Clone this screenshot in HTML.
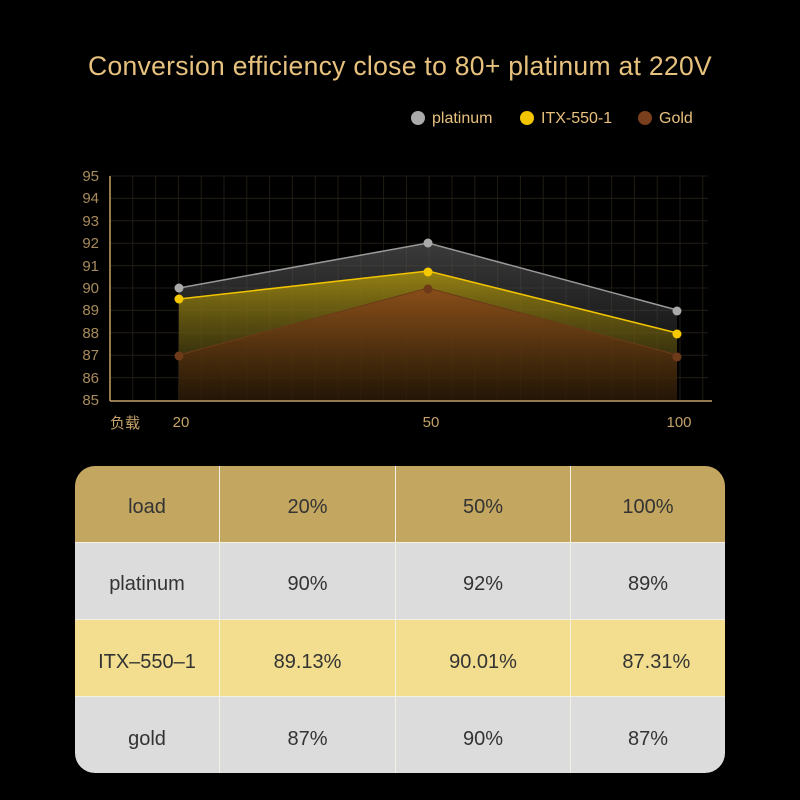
<!DOCTYPE html>
<html><head><meta charset="utf-8"><style>
body{margin:0;background:#000;width:800px;height:800px;overflow:hidden;font-family:"Liberation Sans","Noto Sans CJK SC",sans-serif;}
.t{position:absolute;left:0;width:800px;top:51px;text-align:center;color:#e7c17e;font-size:26.5px;letter-spacing:0.3px}
table{position:absolute;left:75px;top:466px;width:650px;height:307px;border-collapse:collapse;border-radius:20px;overflow:hidden;font-size:20px;color:#333;}
td{text-align:center;border-right:1px solid #f4f0e4;border-bottom:1px solid #f4f0e4;padding:8px 0 0 0}
td:last-child{border-right:none}
tr.h td{background:#c3a660;} tr.g td{background:#dcdcdc;} tr.y td{background:#f2de8e;}
</style></head><body>
<div class="t">Conversion efficiency close to 80+ platinum at 220V</div>
<svg width="800" height="460" style="position:absolute;left:0;top:0">
<defs>
<linearGradient id="gp" x1="0" y1="0" x2="0" y2="1"><stop offset="0" stop-color="#555" stop-opacity=".7"/><stop offset="1" stop-color="#222" stop-opacity=".3"/></linearGradient>
<linearGradient id="gy" x1="0" y1="0" x2="0" y2="1"><stop offset="0" stop-color="#a08a10" stop-opacity=".9"/><stop offset="1" stop-color="#3a3000" stop-opacity=".3"/></linearGradient>
<linearGradient id="gg" x1="0" y1="0" x2="0" y2="1"><stop offset="0" stop-color="#8a4a1a" stop-opacity=".9"/><stop offset="1" stop-color="#2a1505" stop-opacity=".6"/></linearGradient>
</defs>
<g font-size="16" font-family="Liberation Sans,sans-serif">
<circle cx="418" cy="118" r="7" fill="#aaa"/><text x="432" y="123" fill="#e7c17e">platinum</text>
<circle cx="527" cy="118" r="7" fill="#f2c400"/><text x="541" y="123" fill="#e7c17e">ITX-550-1</text>
<circle cx="645" cy="118" r="7" fill="#7a3f1c"/><text x="659" y="123" fill="#e7c17e">Gold</text>
</g>
<g stroke="#221d14" stroke-width="1">
<line x1="110" x2="708" y1="176" y2="176"/><line x1="110" x2="708" y1="198.4" y2="198.4"/><line x1="110" x2="708" y1="220.8" y2="220.8"/><line x1="110" x2="708" y1="243.2" y2="243.2"/><line x1="110" x2="708" y1="265.6" y2="265.6"/><line x1="110" x2="708" y1="288" y2="288"/><line x1="110" x2="708" y1="310.4" y2="310.4"/><line x1="110" x2="708" y1="332.8" y2="332.8"/><line x1="110" x2="708" y1="355.2" y2="355.2"/><line x1="110" x2="708" y1="377.6" y2="377.6"/>
</g>
<g stroke="#221d14" id="vg"></g>
<polygon points="179,400 179,288 428,243 677,310 677,400" fill="url(#gp)"/>
<polygon points="179,400 179,299 428,271 677,333 677,400" fill="url(#gy)"/>
<polygon points="179,400 179,355 428,288 677,355 677,400" fill="url(#gg)"/>
<polyline points="179,288 428,243 677,310" fill="none" stroke="#999" stroke-width="1.5"/>
<polyline points="179,299 428,271 677,333" fill="none" stroke="#f2c400" stroke-width="1.5"/>
<polyline points="179,355 428,288 677,355" fill="none" stroke="#6a3a18" stroke-width="1"/>
<g fill="#aaa"><circle cx="179" cy="288" r="4.5"/><circle cx="428" cy="243" r="4.5"/><circle cx="677" cy="311" r="4.5"/></g>
<g fill="#f5c800"><circle cx="179" cy="299" r="4.5"/><circle cx="428" cy="272" r="4.5"/><circle cx="677" cy="334" r="4.5"/></g>
<g fill="#6e3a1a"><circle cx="179" cy="356" r="4.5"/><circle cx="428" cy="289" r="4.5"/><circle cx="677" cy="357" r="4.5"/></g>
<line x1="110" y1="176" x2="110" y2="401" stroke="#c4a268" stroke-width="1.5"/>
<line x1="110" y1="401" x2="712" y2="401" stroke="#c4a268" stroke-width="1.5"/>
<g fill="#a88b5c" font-size="15" font-family="Liberation Sans,sans-serif" text-anchor="end">
<text x="99" y="181">95</text><text x="99" y="203">94</text><text x="99" y="226">93</text><text x="99" y="248">92</text><text x="99" y="271">91</text><text x="99" y="293">90</text><text x="99" y="315">89</text><text x="99" y="338">88</text><text x="99" y="360">87</text><text x="99" y="383">86</text><text x="99" y="405">85</text>
</g>
<g fill="#c4a268" font-size="15" font-family="Liberation Sans,'Noto Sans CJK SC',sans-serif" text-anchor="middle">
<text x="125" y="428">负载</text><text x="181" y="427">20</text><text x="431" y="427">50</text><text x="679" y="427">100</text>
</g>
</svg>
<script>
var g=document.getElementById('vg'),s='';for(var x=132.8;x<712;x+=22.8)s+='<line x1="'+x+'" x2="'+x+'" y1="176" y2="400"/>';g.innerHTML=s;
</script>
<table>
<tr class="h"><td style="width:144px">load</td><td style="width:175px">20%</td><td style="width:174px">50%</td><td>100%</td></tr>
<tr class="g"><td>platinum</td><td>90%</td><td>92%</td><td>89%</td></tr>
<tr class="y"><td>ITX–550–1</td><td>89.13%</td><td>90.01%</td><td>&nbsp;&nbsp;&nbsp;87.31%</td></tr>
<tr class="g"><td style="border-bottom:none">gold</td><td style="border-bottom:none">87%</td><td style="border-bottom:none">90%</td><td style="border-bottom:none">87%</td></tr>
</table>
</body></html>
